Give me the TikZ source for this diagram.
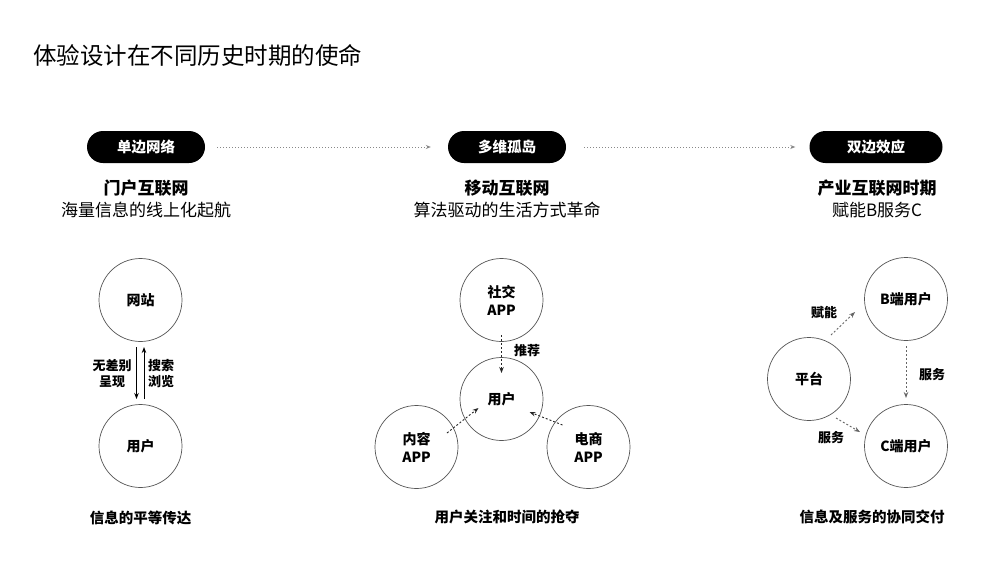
\documentclass[tikz,border=0pt]{standalone}
\usepackage{fontspec}
\setmainfont{Noto Sans CJK SC}
\usetikzlibrary{arrows.meta,calc}
\definecolor{circgray}{HTML}{555555}
\definecolor{dotgray}{HTML}{888888}
\definecolor{arrgray}{HTML}{666666}
\begin{document}
\begin{tikzpicture}[x=1pt,y=-1pt,
  circ/.style={circle,draw=circgray,line width=0.7pt,minimum size=83pt,inner sep=0pt,align=center,
    font=\fontsize{14}{18}\selectfont\bfseries},
  pill/.style={rounded corners=16pt,fill=black,text=white,minimum height=32pt,inner sep=0pt,
    font=\fontsize{14.5}{17}\selectfont\bfseries},
  head/.style={font=\fontsize{17}{20}\selectfont\bfseries,inner sep=0pt},
  sub/.style={font=\fontsize{17}{20}\selectfont,inner sep=0pt},
  foot/.style={font=\fontsize{14.5}{17}\selectfont\bfseries,inner sep=0pt},
  lab/.style={font=\fontsize{13}{16}\selectfont\bfseries,inner sep=0pt,align=center},
  toparrow/.style={draw=dotgray,line width=0.9pt,dash pattern=on 1.2pt off 1.8pt,
    -{Stealth[length=5pt,width=4pt]}},
  solidarrow/.style={draw=black,line width=0.9pt,-{Stealth[length=6pt,width=4.5pt]}},
  darrow/.style={draw=black!85,line width=0.9pt,dash pattern=on 2pt off 2pt,
    -{Stealth[length=6pt,width=4.5pt]}},
  garrow/.style={draw=arrgray,line width=0.9pt,dash pattern=on 2pt off 2pt,
    -{Stealth[length=6pt,width=4.5pt]}}
]
\useasboundingbox (0,0) rectangle (996,560);
\fill[white] (0,0) rectangle (996,560);

% title
\node[anchor=west,inner sep=0pt,font=\fontsize{23.5}{28}\selectfont] (title) at (33,55) {体验设计在不同历史时期的使命};

% pills
\node[pill,minimum width=118pt] (p1) at (146,147) {单边网络};
\node[pill,minimum width=118pt] (p2) at (507,147) {多维孤岛};
\node[pill,minimum width=133pt] (p3) at (876,147) {双边效应};
\draw[toparrow,shorten <=12pt,shorten >=17pt] (p1.east) -- (p2.west);
\draw[toparrow,shorten <=18pt,shorten >=14pt] (p2.east) -- (p3.west);

% headings
\node[head] (h1) at (146,188) {门户互联网};
\node[sub]  (s1) at (146,210) {海量信息的线上化起航};
\node[head] (h2) at (507,188) {移动互联网};
\node[sub]  (s2) at (507,210) {算法驱动的生活方式革命};
\node[head] (h3) at (877,188) {产业互联网时期};
\node[sub]  (s3) at (877,210) {赋能B服务C};

% left diagram
\node[circ] (web) at (140.5,300) {网站};
\node[circ] (u1) at (140.5,446) {用户};
\draw[solidarrow] ($(web.center)+(-4,47)$) -- ($(u1.center)+(-4,-47)$);
\draw[solidarrow] ($(u1.center)+(3.5,-47)$) -- ($(web.center)+(3.5,47)$);
\node[lab] (l1) at (112,374) {无差别\\呈现};
\node[lab] (l2) at (161,374) {搜索\\浏览};
\node[foot] (f1) at (140.5,518) {信息的平等传达};

% middle diagram
\node[circ] (soc) at (501.5,300) {社交\\APP};
\node[circ] (u2) at (501.5,399) {用户};
\node[circ] (con) at (416.5,447) {内容\\APP};
\node[circ] (ec) at (588.5,447) {电商\\APP};
\draw[darrow] ($(soc.center)+(0,35)$) -- ($(u2.center)+(0,-26)$);
\draw[darrow] ($(con.center)+(30.5,-14)$) -- ($(u2.center)+(-23,9)$);
\draw[darrow] ($(ec.center)+(-26,-22)$) -- ($(u2.center)+(28,13)$);
\node[lab] (tj) at (527,351) {推荐};
\node[foot] (f2) at (507,517) {用户关注和时间的抢夺};

% right diagram
\node[circ] (b) at (906,299) {B端用户};
\node[circ] (pf) at (809,379) {平台};
\node[circ] (c) at (906,446) {C端用户};
\draw[garrow] ($(pf.center)+(22,-44)$) -- ($(b.center)+(-51,13)$);
\draw[garrow] ($(b.center)+(0,47)$) -- ($(c.center)+(0,-48)$);
\draw[garrow] ($(pf.center)+(27,39)$) -- ($(c.center)+(-46,-14)$);
\node[lab] (fn) at (824,313) {赋能};
\node[lab] (fw1) at (932,375) {服务};
\node[lab] (fw2) at (831,438) {服务};
\node[foot] (f3) at (872,517) {信息及服务的协同交付};
\end{tikzpicture}
\end{document}
